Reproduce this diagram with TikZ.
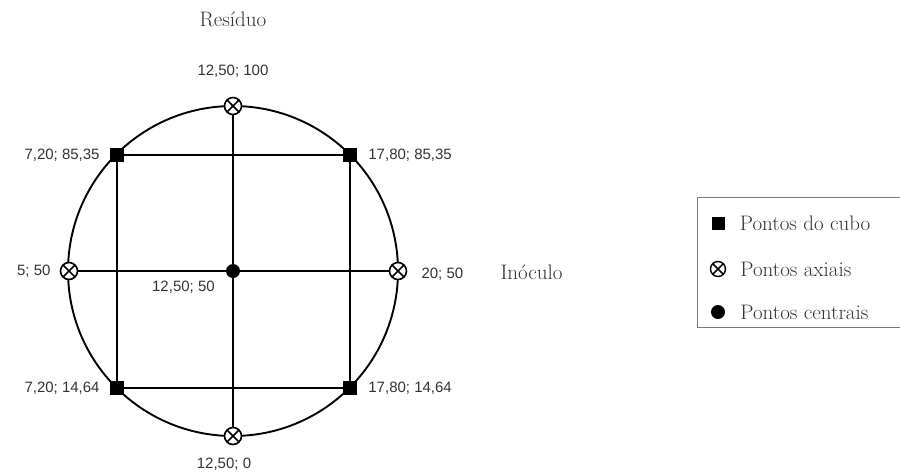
\documentclass[tikz,border=0pt]{standalone}
\usepackage{fontspec}
\newfontfamily\lblfont{Liberation Sans}
\usetikzlibrary{positioning}
\definecolor{textGray}{RGB}{50,50,50}
\definecolor{frameGray}{RGB}{120,120,120}
\tikzset{
  designLine/.style = {line width=1.9pt, draw=black},
  cubePt/.style     = {rectangle, fill=black, minimum size=#1, inner sep=0pt},
  cubePt/.default   = 14pt,
  axialPt/.style    = {circle, draw=black, fill=white, line width=1.6pt,
                       minimum size=#1, inner sep=0pt,
                       path picture={\draw[line width=1.6pt]
                         (path picture bounding box.north west) -- (path picture bounding box.south east)
                         (path picture bounding box.north east) -- (path picture bounding box.south west);}},
  axialPt/.default  = 17pt,
  centerPt/.style   = {circle, fill=black, minimum size=#1, inner sep=0pt},
  centerPt/.default = 14pt,
  ptLabel/.style    = {inner sep=0pt, text=textGray,
                       font=\lblfont\fontsize{15}{17}\selectfont},
  axisLabel/.style  = {inner sep=0pt, text=textGray,
                       font=\fontsize{21}{25}\selectfont},
}

\begin{document}
\begin{tikzpicture}[x=1pt, y=-1pt]
  \useasboundingbox (0,0) rectangle (900,475);
  % design region
  \coordinate (o) at (233,271);
  \draw[designLine] (o) circle (165pt);

  % cube points
  \node[cubePt] (tl) at (117,155) {};
  \node[cubePt] (tr) at (350,155) {};
  \node[cubePt] (bl) at (117,388) {};
  \node[cubePt] (br) at (350,388) {};
  % axial points
  \node[axialPt] (top) at (233,106) {};
  \node[axialPt] (bot) at (233,436) {};
  \node[axialPt] (lft) at (69,271) {};
  \node[axialPt] (rgt) at (398,271) {};
  % centre point
  \node[centerPt] (ctr) at (o) {};

  \draw[designLine] (tl) -- (tr);
  \draw[designLine] (bl) -- (br);
  \draw[designLine] (tl) -- (bl);
  \draw[designLine] (tr) -- (br);
  \draw[designLine] (top) -- (ctr) -- (bot);
  \draw[designLine] (lft) -- (ctr) -- (rgt);

  % point labels
  \node[ptLabel, above=19pt of top] (lblT) {12,50; 100};
  \node[ptLabel, below=13pt of bot, xshift=-9pt] (lblB) {12,50; 0};
  \node[ptLabel, left=9pt of lft] (lblL) {5; 50};
  \node[ptLabel, right=14pt of rgt, yshift=-3pt] (lblR) {20; 50};
  \node[ptLabel, left=10pt of tl] (lblTL) {7,20; 85,35};
  \node[ptLabel, right=11pt of tr] (lblTR) {17,80; 85,35};
  \node[ptLabel, left=10pt of bl] (lblBL) {7,20; 14,64};
  \node[ptLabel, right=11pt of br] (lblBR) {17,80; 14,64};
  \node[ptLabel, below left=5pt and 13pt of ctr] (lblC) {12,50; 50};

  % axis names
  \node[axisLabel, above=38pt of lblT] (resid) {Resíduo};
  \node[axisLabel, right=37pt of lblR, yshift=2pt] (inoc) {Inóculo};

  % legend
  \draw[frameGray, line width=1pt] (900,197) -- (697,197) -- (697,327) -- (900,327);
  \node[cubePt=13pt] (keyCube) at (718,223) {};
  \node[axialPt=15pt, line width=1.4pt] (keyAxial) at (718,269) {};
  \node[centerPt=14pt] (keyCtr) at (718,312) {};
  \node[axisLabel, anchor=west, right=15pt of keyCube] {Pontos do cubo};
  \node[axisLabel, anchor=west, right=14pt of keyAxial] {Pontos axiais};
  \node[axisLabel, anchor=west, right=15pt of keyCtr] {Pontos centrais};
\end{tikzpicture}
\end{document}
